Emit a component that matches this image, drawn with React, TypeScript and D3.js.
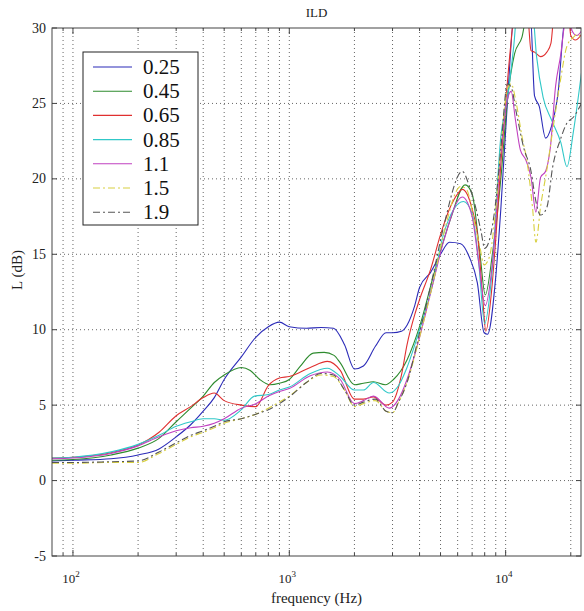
import React from "react";
import * as d3 from "d3";

const titleText = "ILD";
const xLabel = "frequency (Hz)";
const yLabel = "L (dB)";
const yTicks = [-5, 0, 5, 10, 15, 20, 25, 30];
const xMajor = [100, 1000, 10000];
const xMajorExp = ["2", "3", "4"];
const xGrid = [90, 100, 200, 300, 400, 500, 600, 700, 800, 900, 1000, 2000, 3000, 4000, 5000, 6000, 7000, 8000, 9000, 10000, 20000];

const names = ["0.25", "0.45", "0.65", "0.85", "1.1", "1.5", "1.9"];
const colors = ["#2b2bb8", "#2e8b2e", "#e03030", "#30c8c8", "#c040c0", "#d8d040", "#555555"];
const dashes = ["", "", "", "", "", "7 3 2 3", "7 3 2 3"];

const f025 = [80, 100, 150, 200, 250, 300, 350, 400, 450, 500, 600, 700, 800, 900, 1000, 1200, 1400, 1600, 1800, 2000, 2200, 2500, 2800, 3000, 3300, 3500, 3800, 4000, 4500, 5000, 5500, 6200, 6800, 7400, 7950, 8250, 9000, 9500, 10200, 11000, 13000, 13600, 14300, 15300, 16300, 17400, 19000, 22500];
const v025 = [1.3, 1.35, 1.45, 1.7, 2.1, 2.9, 3.7, 4.6, 5.5, 6.7, 8.2, 9.5, 10.2, 10.5, 10.2, 10.1, 10.15, 10.1, 9.0, 7.4, 7.6, 8.9, 9.8, 9.8, 9.9, 10.3, 11.6, 12.8, 13.8, 15.0, 15.8, 15.7, 14.8, 13.1, 9.8, 9.7, 13.5, 18, 25.2, 31, 31, 25.5, 24.8, 22.7, 23.5, 25.5, 31, 31];

const f045 = [80, 100, 150, 200, 250, 300, 350, 400, 450, 500, 600, 660, 730, 815, 900, 1000, 1120, 1290, 1450, 1610, 1720, 2000, 2200, 2450, 2780, 3030, 3500, 4040, 4660, 5550, 6500, 7000, 7600, 8050, 8700, 9500, 10200, 11000, 11900, 12600, 22500];
const v045 = [1.35, 1.4, 1.7, 2.15, 2.8, 3.9, 4.8, 5.6, 6.5, 7.0, 7.5, 7.3, 6.7, 6.35, 6.45, 6.7, 7.55, 8.45, 8.5, 8.3, 7.8, 6.35, 6.45, 6.55, 6.35, 6.7, 8.0, 10.4, 13.7, 17.3, 19.6, 19.0, 15.1, 12.3, 15.1, 20, 25.3, 28.3, 29.4, 31, 31];

const f065 = [80, 100, 150, 200, 250, 300, 350, 400, 450, 500, 600, 700, 800, 900, 1000, 1250, 1500, 1720, 2000, 2200, 2450, 2800, 3000, 3300, 3500, 3800, 4000, 4500, 5000, 5500, 6000, 6300, 7000, 7450, 7800, 8100, 8600, 9000, 9500, 10000, 10500, 11000, 12600, 13100, 13600, 14500, 15500, 16200, 16800, 19500, 20000, 21000, 22500];
const v065 = [1.5, 1.55, 1.85, 2.35, 3.2, 4.3, 4.9, 5.5, 5.8, 5.3, 5.0, 4.9, 6.3, 6.8, 6.9, 7.5, 7.9, 7.3, 5.4, 5.4, 5.55, 5.0, 5.2, 7.0, 9.0, 11, 12, 14, 16.3, 18.0, 19.0, 19.3, 18.0, 16.0, 12.5, 9.9, 12.5, 16, 21, 25, 28.5, 31, 31, 28.5, 28.4, 28.1, 28.4, 29, 31, 31, 29.5, 29.2, 29.6];

const f085 = [80, 100, 150, 200, 250, 300, 350, 400, 450, 500, 600, 690, 800, 900, 1000, 1250, 1500, 1720, 2000, 2200, 2450, 2900, 3200, 3500, 4000, 4600, 5180, 6380, 7000, 7500, 8000, 8600, 9500, 10200, 10900, 11300, 13300, 13900, 14900, 16300, 18000, 19200, 20600, 22400];
const v085 = [1.5, 1.55, 1.9, 2.4, 3.0, 3.6, 3.9, 4.1, 4.1, 4.0, 4.7, 5.6, 5.7, 6.0, 6.2, 7.1, 7.45, 6.9, 6.0, 6.0, 6.5, 5.8, 6.3, 7.5, 10.0, 13.0, 16.4, 18.5, 17.7, 14.5, 10.4, 13.4, 22.8, 25.4, 28.8, 31, 31, 28.1, 25.4, 23.9, 22.4, 20.8, 23.2, 27.0];

const f11 = [80, 100, 150, 200, 250, 300, 350, 400, 450, 500, 600, 700, 800, 900, 1000, 1250, 1500, 1720, 2000, 2200, 2450, 2900, 3200, 3500, 4000, 4600, 5200, 6300, 7000, 7500, 8050, 8700, 9500, 10200, 10600, 11100, 11700, 12400, 13100, 13800, 14500, 15300, 16100, 17000, 18000, 18700, 19500, 20300, 21300, 22400];
const v11 = [1.45, 1.5, 1.8, 2.3, 2.9, 3.3, 3.5, 3.6, 3.8, 4.1, 4.8, 5.1, 5.6, 5.9, 6.1, 6.95, 7.2, 6.7, 5.1, 5.3, 5.6, 4.8, 5.4, 6.7, 9.5, 13, 16, 18.8, 17.5, 14.5, 11.6, 14.5, 21.7, 25.3, 25.8, 23.9, 21.9, 21.25, 20.1, 17.8, 20.1, 20.5, 22.1, 26.1, 28.3, 30.2, 31, 29.8, 29.5, 29.8];

const f15 = [80, 100, 150, 200, 250, 300, 350, 400, 450, 500, 600, 700, 800, 900, 1000, 1200, 1400, 1600, 1800, 2000, 2200, 2500, 2800, 3000, 3200, 3500, 4000, 4600, 5200, 6200, 6600, 7200, 7600, 7950, 8400, 9000, 9500, 10200, 10600, 11200, 11900, 12600, 13300, 13800, 14500, 15500, 16500, 17900, 19200, 20600, 21500, 22300];
const v15 = [1.15, 1.15, 1.2, 1.2, 1.8, 2.4, 2.9, 3.2, 3.5, 3.8, 4.1, 4.4, 4.8, 5.2, 5.6, 6.5, 7.0, 6.9, 6.0, 4.9, 5.1, 5.3, 4.6, 4.5, 5.2, 6.5, 9.5, 13, 16.5, 19.5, 19.3, 17, 15.5, 14.3, 14.8, 18, 22, 26, 26.3, 25, 22.8, 21, 18.15, 15.8, 18.15, 20.6, 23.2, 26.5, 28.8, 29.4, 29.6, 29.3];

const f19 = [80, 100, 150, 200, 250, 300, 350, 400, 450, 500, 600, 700, 800, 900, 1000, 1200, 1400, 1600, 1800, 2000, 2200, 2500, 2800, 3000, 3200, 3500, 4000, 4600, 5200, 6300, 6800, 7300, 7700, 8000, 8500, 9000, 9500, 10200, 10600, 11200, 12100, 13100, 13800, 14500, 15500, 16500, 17900, 19200, 20600, 22400];
const v19 = [1.2, 1.2, 1.25, 1.3, 1.9, 2.5, 3.0, 3.3, 3.6, 3.9, 4.1, 4.4, 4.7, 5.1, 5.55, 6.5, 7.1, 7.0, 6.0, 5.0, 5.2, 5.4, 4.6, 4.5, 5.2, 6.5, 9.8, 13.5, 17, 20.5, 19.5, 18, 16.5, 15.4, 16.2, 18.5, 22, 26.3, 26.1, 24.4, 22.1, 20.5, 18.5, 17.6, 18.1, 20.8, 22.6, 23.7, 24.1, 25];

const seriesF = [f025, f045, f065, f085, f11, f15, f19];
const seriesV = [v025, v045, v065, v085, v11, v15, v19];

const L = 52, R = 581, T = 28, B = 556;

export default function App() {
  const x = d3.scaleLog().domain([80, 22300]).range([L, R]);
  const y = d3.scaleLinear().domain([-5, 30]).range([B, T]);
  const line = d3
    .line<[number, number]>()
    .x((d) => x(d[0]))
    .y((d) => y(d[1]))
    .curve(d3.curveMonotoneX);

  const serif = "Liberation Serif";
  const grid = "#666";

  return (
    <svg width={584} height={611} style={{ display: "block", position: "absolute", left: 0, top: 0, background: "#fff" }}>
      <rect x={0} y={0} width={584} height={611} fill="#fff" />
      <defs>
        <clipPath id="plotclip">
          <rect x={L} y={T} width={R - L} height={B - T} />
        </clipPath>
      </defs>
      {xGrid.map((g) => (
        <line key={"gx" + g} x1={x(g)} x2={x(g)} y1={T} y2={B} stroke={grid} strokeWidth={1} strokeDasharray="1 3" />
      ))}
      {yTicks.slice(1, -1).map((t) => (
        <line key={"gy" + t} x1={L} x2={R} y1={y(t)} y2={y(t)} stroke={grid} strokeWidth={1} strokeDasharray="1 3" />
      ))}
      {xGrid.map((g) => {
        const len = xMajor.includes(g) ? 6 : 3;
        return (
          <g key={"tx" + g}>
            <line x1={x(g)} x2={x(g)} y1={B} y2={B - len} stroke="#444" />
            <line x1={x(g)} x2={x(g)} y1={T} y2={T + len} stroke="#444" />
          </g>
        );
      })}
      {yTicks.map((t) => (
        <g key={"ty" + t}>
          <line x1={L} x2={L + 5} y1={y(t)} y2={y(t)} stroke="#444" />
          <line x1={R} x2={R - 5} y1={y(t)} y2={y(t)} stroke="#444" />
        </g>
      ))}
      <g clipPath="url(#plotclip)">
        {seriesF.map((fs, i) => {
          const pts: [number, number][] = fs.map((f, j) => [f, seriesV[i][j]]);
          return (
            <path
              key={"s" + i}
              d={line(pts) || ""}
              fill="none"
              stroke={colors[i]}
              strokeWidth={1.1}
              strokeDasharray={dashes[i] || undefined}
            />
          );
        })}
      </g>
      <rect x={L} y={T} width={R - L} height={B - T} fill="none" stroke="#444" strokeWidth={1} />
      {yTicks.map((t) => (
        <text key={"yl" + t} x={L - 6} y={y(t) + 4.5} textAnchor="end" fontFamily={serif} fontSize={14} fill="#222">
          {t}
        </text>
      ))}
      {xMajor.map((m, i) => (
        <text key={"xl" + m} x={x(m) - 2} y={583} textAnchor="middle" fontFamily={serif} fontSize={13} fill="#222">
          10
          <tspan dy={-6} fontSize={9}>
            {xMajorExp[i]}
          </tspan>
        </text>
      ))}
      <text x={(L + R) / 2} y={17} textAnchor="middle" fontFamily={serif} fontSize={13} fill="#222">
        {titleText}
      </text>
      <text x={(L + R) / 2} y={603} textAnchor="middle" fontFamily={serif} fontSize={15} fill="#222">
        {xLabel}
      </text>
      <text transform={`translate(22, 270) rotate(-90)`} textAnchor="middle" fontFamily={serif} fontSize={15} fill="#222">
        {yLabel}
      </text>
      <rect x={83} y={52} width={115} height={173} fill="#fff" stroke="#222" strokeWidth={1} />
      {names.map((n, i) => {
        const ly = 67 + i * 24.2;
        return (
          <g key={"lg" + i}>
            <line x1={93} x2={132} y1={ly} y2={ly} stroke={colors[i]} strokeWidth={1.1} strokeDasharray={dashes[i] || undefined} />
            <text x={143} y={ly + 7} fontFamily={serif} fontSize={21} fill="#111">
              {n}
            </text>
          </g>
        );
      })}
    </svg>
  );
}
